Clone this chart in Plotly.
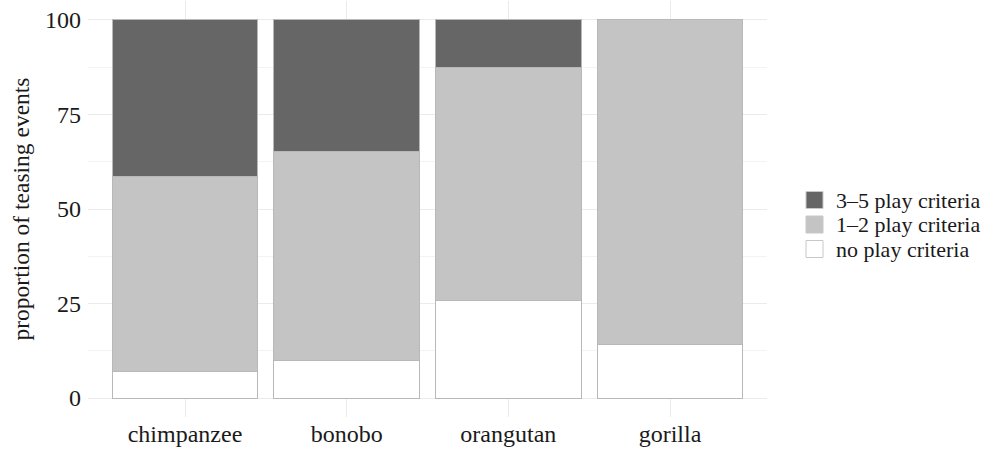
import plotly.graph_objects as go

species = ["chimpanzee", "bonobo", "orangutan", "gorilla"]
no_play = [7.1, 9.9, 25.7, 14.2]
play_1_2 = [51.4, 55.3, 61.6, 85.8]
play_3_5 = [41.5, 34.8, 12.7, 0.0]
y_ticks = [0, 25, 50, 75, 100]

series = [("no play criteria", no_play, "#ffffff"),
          ("1–2 play criteria", play_1_2, "#c4c4c4"),
          ("3–5 play criteria", play_3_5, "#666666")]

FONT = "Liberation Serif, Times New Roman, serif"
TXT = "#1a1a1a"
fig = go.Figure()
for name, vals, col in series:
    fig.add_trace(go.Bar(x=species, y=vals, name=name, width=0.9, showlegend=False,
                         marker=dict(color=col, line=dict(color="#b8b8b8", width=1))))

# manual legend (top item = last series)
legend_y = [200, 224.5, 249]
for (name, vals, col), yc in zip(reversed(series), legend_y):
    fig.add_shape(type="rect", xref="paper", yref="paper",
                  x0=(806 - 88) / 679, x1=(823 - 88) / 679,
                  y0=(417 - (yc + 8.5)) / 416, y1=(417 - (yc - 8.5)) / 416,
                  fillcolor=col, line=dict(color="#c8c8c8", width=1))
    fig.add_annotation(xref="paper", yref="paper", x=(834 - 88) / 679, y=(417 - yc) / 416,
                       xanchor="left", yanchor="middle", showarrow=False, text=name,
                       font=dict(family=FONT, size=22, color=TXT))

fig.update_layout(
    barmode="stack",
    width=997, height=450,
    margin=dict(l=88, r=230, t=1, b=33),
    plot_bgcolor="white", paper_bgcolor="white",
    font=dict(family=FONT, size=24, color=TXT),
    showlegend=False,
)
fig.update_xaxes(range=[-0.6, 3.6], showgrid=True, gridcolor="#ebebeb", gridwidth=1,
                 ticks="", tickfont=dict(size=24), zeroline=False, showline=False)
fig.update_yaxes(range=[-5, 105], tickvals=y_ticks, showgrid=True, gridcolor="#ebebeb", gridwidth=1,
                 minor=dict(tickvals=[12.5, 37.5, 62.5, 87.5], showgrid=True, gridcolor="#f3f3f3", gridwidth=1),
                 zeroline=False, showline=False, tickfont=dict(size=24), ticks="",
                 ticklabelstandoff=6,
                 title=dict(text="proportion of teasing events", font=dict(size=23.5), standoff=8))

fig.write_html("out.html", config={"displayModeBar": False},
               post_script="document.body.style.margin='0px';")
